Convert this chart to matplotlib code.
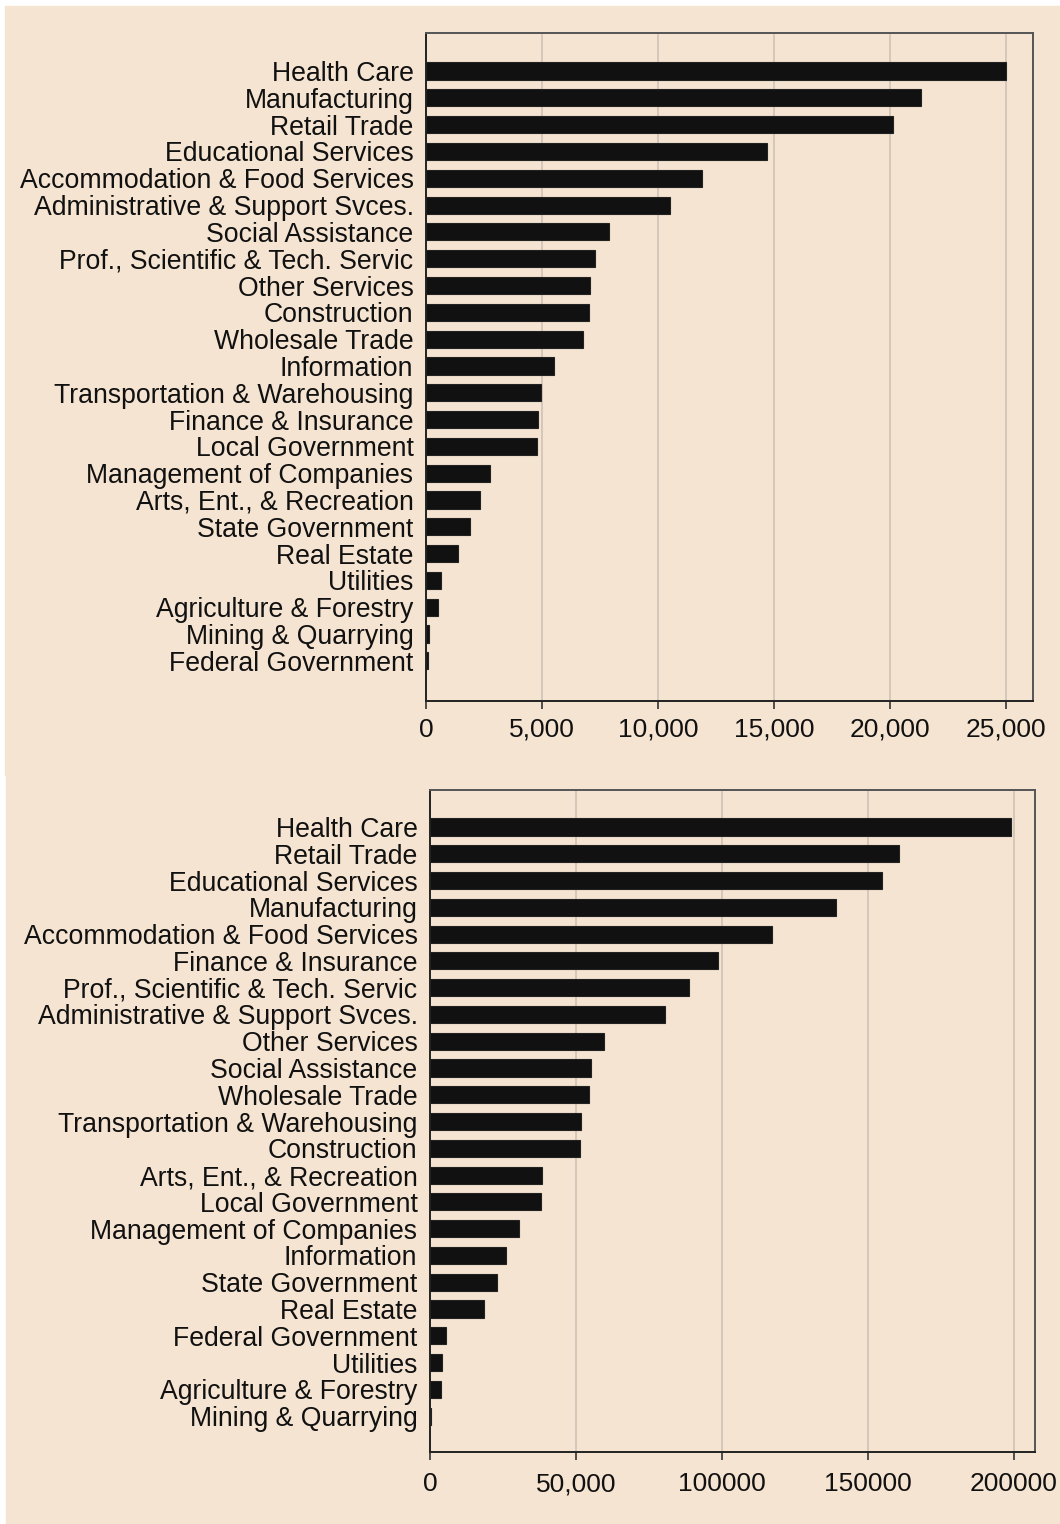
import matplotlib.pyplot as plt
from matplotlib.patches import Rectangle

# top chart
top_labels = ['Health Care', 'Manufacturing', 'Retail Trade', 'Educational Services',
              'Accommodation & Food Services', 'Administrative & Support Svces.',
              'Social Assistance', 'Prof., Scientific & Tech. Servic', 'Other Services',
              'Construction', 'Wholesale Trade', 'Information', 'Transportation & Warehousing',
              'Finance & Insurance', 'Local Government', 'Management of Companies',
              'Arts, Ent., & Recreation', 'State Government', 'Real Estate', 'Utilities',
              'Agriculture & Forestry', 'Mining & Quarrying', 'Federal Government']
top_values = [25000, 21340, 20140, 14670, 11880, 10500, 7880, 7270, 7060, 7010, 6760,
              5510, 4950, 4820, 4780, 2750, 2320, 1890, 1380, 650, 520, 130, 90]
top_ticks = [0, 5000, 10000, 15000, 20000, 25000]
top_ticklabels = ['0', '5,000', '10,000', '15,000', '20,000', '25,000']

# bottom chart
bot_labels = ['Health Care', 'Retail Trade', 'Educational Services', 'Manufacturing',
              'Accommodation & Food Services', 'Finance & Insurance',
              'Prof., Scientific & Tech. Servic', 'Administrative & Support Svces.',
              'Other Services', 'Social Assistance', 'Wholesale Trade',
              'Transportation & Warehousing', 'Construction', 'Arts, Ent., & Recreation',
              'Local Government', 'Management of Companies', 'Information',
              'State Government', 'Real Estate', 'Federal Government', 'Utilities',
              'Agriculture & Forestry', 'Mining & Quarrying']
bot_values = [199000, 160600, 154800, 139000, 117100, 98600, 88700, 80500, 59600, 55100,
              54500, 51700, 51400, 38400, 38000, 30500, 26000, 22900, 18500, 5500, 4100,
              3800, 300]
bot_ticks = [0, 50000, 100000, 150000, 200000]
bot_ticklabels = ['0', '50,000', '100000', '150000', '200000']

BG = '#F5E4D1'
W, H = 1060, 1524

plt.rcParams['font.family'] = ['Liberation Sans', 'DejaVu Sans']

fig = plt.figure(figsize=(W / 100, H / 100), dpi=100, facecolor='white')
# beige panels behind the axes
fig.patches.append(Rectangle((5 / W, 1 - 775 / H), 1 - 5 / W, (775 - 6) / H,
                             transform=fig.transFigure, color=BG, zorder=-10))
fig.patches.append(Rectangle((6 / W, 0), 1 - 6 / W, 1 - 775 / H,
                             transform=fig.transFigure, color=BG, zorder=-10))


def draw_panel(rect, labels, values, ticks, ticklabels, xmax, ylim, xpad):
    ax = fig.add_axes(rect)
    ax.set_facecolor(BG)
    y = list(range(len(labels)))
    ax.barh(y, values, height=0.64, color='#111111', edgecolor='#222222',
            linewidth=0.8, zorder=3)
    ax.set_xlim(0, xmax)
    ax.set_ylim(*ylim)
    ax.set_yticks(y)
    ax.set_yticklabels(labels, fontsize=19.2, color='#111111')
    ax.set_xticks(ticks)
    ax.set_xticklabels(ticklabels, fontsize=19, color='#111111')
    ax.tick_params(axis='y', length=0, pad=9)
    ax.tick_params(axis='x', length=6, width=1.2, color='#333333', pad=xpad)
    for t in ticks[1:]:
        ax.axvline(t, color='#D2C6B8', linewidth=1.3, zorder=1)
    for side in ['left', 'bottom']:
        ax.spines[side].set_color('#222222')
        ax.spines[side].set_linewidth(1.4)
    for side in ['top', 'right']:
        ax.spines[side].set_color('#555555')
        ax.spines[side].set_linewidth(1.4)
    return ax


draw_panel([426 / W, 1 - 701 / H, (1033 - 426) / W, (701 - 33) / H],
           top_labels, top_values, top_ticks, top_ticklabels, 26150, (23.5, -1.42), 6)
draw_panel([430 / W, 1 - 1452 / H, (1035 - 430) / W, (1452 - 790) / H],
           bot_labels, bot_values, bot_ticks, bot_ticklabels, 207200, (23.34, -1.38), 8.5)

fig.savefig('out.png', dpi=100, facecolor='white')
